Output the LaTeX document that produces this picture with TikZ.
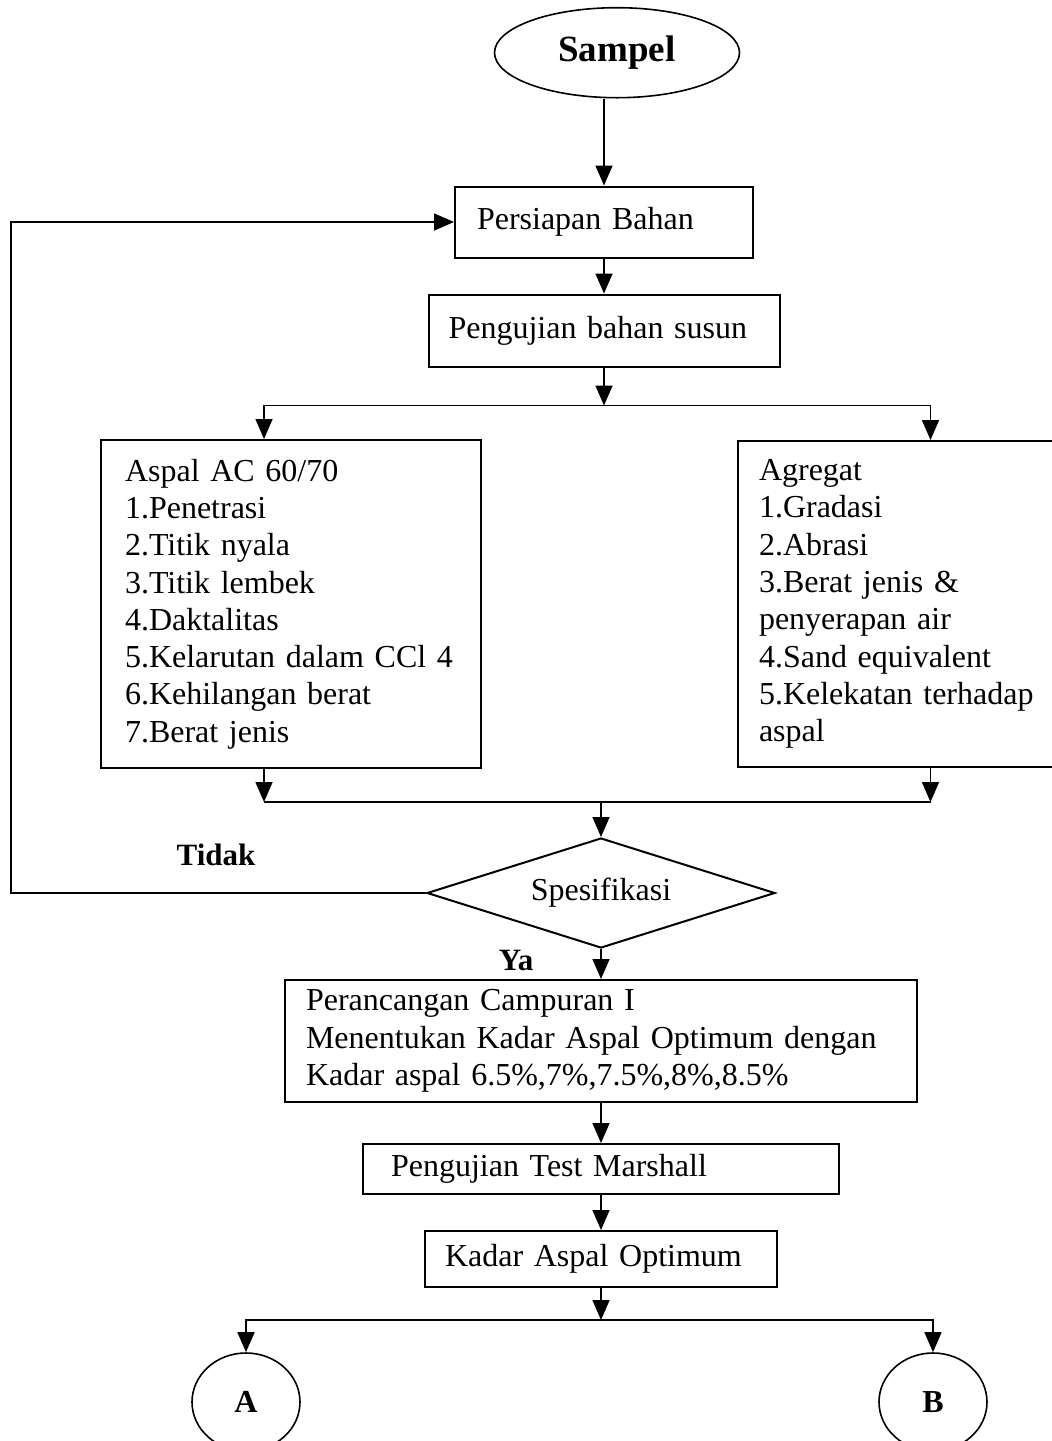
\documentclass[tikz,border=0pt]{standalone}
\usepackage{fontspec}
\setmainfont{Liberation Serif}
\usetikzlibrary{arrows.meta,positioning,shapes.geometric}

\begin{document}
\begin{tikzpicture}[
  x=1pt, y=-1pt,
  font=\fontsize{32}{37.3}\selectfont,
  box/.style={draw, line width=2pt, align=left, inner ysep=0pt},
  term/.style={draw, ellipse, line width=1.6pt, inner sep=0pt, font=\bfseries\fontsize{37}{37}\selectfont},
  conn/.style={draw, ellipse, line width=1.6pt, inner sep=0pt, minimum width=108pt, minimum height=98pt, font=\bfseries\fontsize{32}{32}\selectfont},
  dec/.style={draw, diamond, aspect=3.2, line width=2pt, inner sep=0pt},
  arr/.style={-{Triangle[length=20pt,width=17pt]}, line width=1.6pt},
  line/.style={line width=1.6pt},
  lab/.style={font=\bfseries\fontsize{31}{31}\selectfont}
]
\useasboundingbox (0,0) rectangle (1052,1441);
\clip (0,0) rectangle (1052,1441);

\node[box, text width=254pt, inner xsep=22pt, minimum height=71pt] (persiapan) at (604,222) {Persiapan Bahan};
\node[term, above=87pt of persiapan, xshift=13pt, minimum width=245pt, minimum height=90pt] (sampel) {Sampel};
\node[box, below=35pt of persiapan, text width=311pt, inner xsep=20pt, minimum height=72pt] (uji) {Pengujian bahan susun};
\coordinate[below=38pt of uji] (fork);

\node[box, anchor=north west, text width=332pt, inner xsep=24pt, minimum height=328pt] (aspal) at (100,439) {Aspal AC 60/70\\1.Penetrasi\\2.Titik nyala\\3.Titik lembek\\4.Daktalitas\\5.Kelarutan dalam CCl 4\\6.Kehilangan berat\\7.Berat jenis};
\node[box, anchor=north west, text width=301pt, inner xsep=21pt, minimum height=326pt] (agregat) at (737,440) {Agregat\\1.Gradasi\\2.Abrasi\\3.Berat jenis \&\\penyerapan air\\4.Sand equivalent\\5.Kelekatan terhadap\\aspal};
\coordinate (aspalin) at ([xshift=-27pt]aspal.north);
\coordinate (aspalout) at ([xshift=-27pt]aspal.south);
\coordinate (agrin) at ([xshift=21pt]agregat.north);
\coordinate (agrout) at ([xshift=21pt]agregat.south);

\node[dec, minimum width=348pt, minimum height=110pt] (spek) at (601,893) {Spesifikasi};
\coordinate[above=35pt of spek] (merge);
\node[lab] (tidak) at (216,855) {Tidak};
\node[lab] (ya) at (516,960) {Ya};

\node[box, below=30pt of spek, text width=590pt, inner xsep=21pt, minimum height=122pt] (peran) {Perancangan Campuran I\\Menentukan Kadar Aspal Optimum dengan\\Kadar aspal 6.5\%,7\%,7.5\%,8\%,8.5\%};
\node[box, below=40pt of peran, text width=420pt, inner xsep=28pt, minimum height=50pt] (marshall) {Pengujian Test Marshall};
\node[box, below=35pt of marshall, text width=312pt, inner xsep=20pt, minimum height=56pt] (kadar) {Kadar Aspal Optimum};
\coordinate[below=32pt of kadar] (split);
\node[conn] (A) at (246,1402) {A};
\node[conn] (B) at (933,1402) {B};

\draw[arr] (sampel.south -| persiapan.north) -- (persiapan.north);
\draw[arr] (persiapan) -- (uji);
\draw[arr] (uji) -- (fork);
\draw[arr] (fork) -| (aspalin);
\draw[arr] (fork) -| (agrin);
\draw[arr] (aspalout) -- (aspalout |- merge);
\draw[arr] (agrout) -- (agrout |- merge);
\draw[line] (aspalout |- merge) -- (agrout |- merge);
\draw[arr] (merge) -- (spek);
\draw[arr] (spek.west) -- ++(-415,0) |- (persiapan.west);
\draw[arr] (spek) -- (peran);
\draw[arr] (peran) -- (marshall);
\draw[arr] (marshall) -- (kadar);
\draw[arr] (kadar) -- (split);
\draw[arr] (split) -| (A);
\draw[arr] (split) -| (B);
\end{tikzpicture}
\end{document}
